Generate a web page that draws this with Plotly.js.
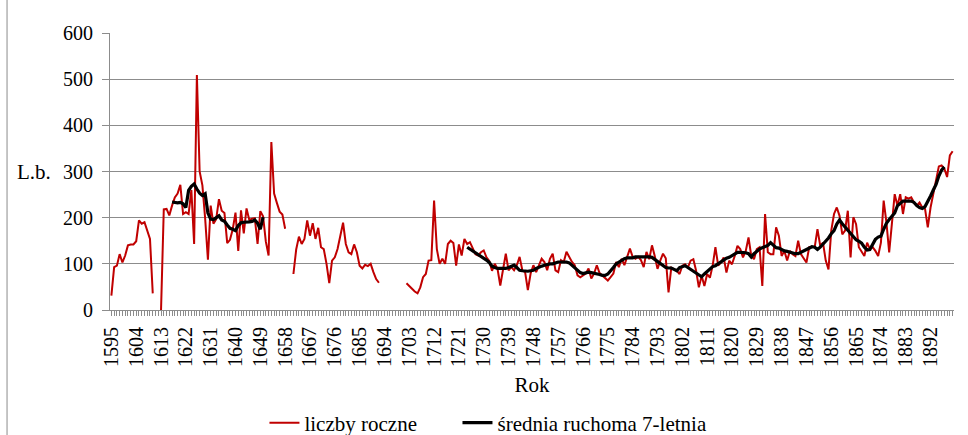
<!DOCTYPE html>
<html>
<head>
<meta charset="utf-8">
<script src="https://cdn.plot.ly/plotly-3.0.1.min.js"></script>
<style>
html,body{margin:0;padding:0;background:#fff;}
#chart{width:968px;height:435px;}
</style>
</head>
<body>
<div id="chart"></div>
<script>
// Years 1595..1900 (categories)
const firstYear = 1595;
const lastYear = 1900;
const labelStep = 9;

// Annual values (liczby roczne), aligned to years 1595..1900, null = no data
const annual = [
  31, 93, 96, 121, 103, 118, 140, 142, 142, 149,          // 1595-1604
  194, 187, 190, 172, 154, 36, null, null, 0, 218,        // 1605-1614
  219, 205, 226, 244, 252, 271, 208, 212, 208, 260,       // 1615-1624
  143, 509, 300, 270, 198, 109, 226, 187, 197, 240,       // 1625-1634
  215, 210, 145, 152, 175, 211, 128, 216, 166, 220,       // 1635-1644
  195, 198, 199, 143, 214, 203, 148, 118, 364, 252,       // 1645-1654
  232, 213, 207, 176, null, null, 78, 131, 159, 143,      // 1655-1664
  154, 194, 161, 188, 154, 178, 136, 132, 100, 58,        // 1665-1674
  107, 114, 132, 158, 189, 143, 125, 121, 142, 125,       // 1675-1684
  96, 90, 98, 95, 100, 82, 67, 59, null, null,            // 1685-1694
  null, null, null, null, null, null, null, 58, 51, 46,   // 1695-1704
  40, 36, 49, 71, 78, 107, 108, 237, 132, 100,            // 1705-1714
  111, 100, 143, 150, 145, 96, 142, 118, 154, 143,        // 1715-1724
  147, 132, 121, 118, 125, 129, 114, 106, 85, 100,        // 1725-1734
  89, 53, 86, 122, 86, 93, 86, 97, 115, 86,               // 1735-1744
  82, 43, 79, 97, 82, 97, 111, 104, 86, 111,              // 1745-1754
  122, 86, 82, 108, 104, 126, 115, 104, 97, 75,           // 1755-1764
  71, 75, 79, 90, 68, 79, 97, 80, 75, 71,                 // 1765-1774
  64, 71, 79, 104, 93, 111, 97, 115, 133, 115,            // 1775-1784
  111, 115, 108, 93, 126, 110, 140, 117, 89, 107,         // 1785-1794
  122, 112, 38, 92, 88, 85, 78, 96, 99, 92,               // 1795-1804
  107, 110, 85, 49, 74, 52, 78, 70, 96, 136,              // 1805-1814
  96, 103, 114, 81, 107, 99, 117, 139, 132, 114,          // 1815-1824
  128, 157, 117, 110, 132, 136, 52, 208, 125, 121,        // 1825-1834
  121, 179, 161, 117, 128, 107, 128, 121, 117, 150,       // 1835-1844
  121, 112, 103, 136, 137, 136, 175, 139, 146, 107,       // 1845-1854
  88, 172, 208, 222, 204, 164, 172, 215, 114, 201,        // 1855-1864
  186, 136, 125, 117, 146, 132, 136, 128, 117, 146,       // 1865-1874
  237, 190, 125, 186, 251, 226, 251, 208, 244, 241,       // 1875-1884
  244, 233, 226, 233, 222, 219, 179, 222, 251, 284,       // 1885-1894
  311, 313, 306, 288, 335, 344                            // 1895-1900
];

// 7-year moving average (średnia ruchoma 7-letnia), two stretches
const maStartA = 1617;
const movingAvgA = [
  234, 233, 232, 233, 230, 222, 259, 268, 273, 262,       // 1617-1626
  253, 248, 252, 210, 197, 196, 201, 204, 195, 192,       // 1627-1636
  184, 177, 175, 172, 183, 189, 190, 190, 191, 192,       // 1637-1646
  195, 188, 175, 201                                      // 1647-1650
];
const maStartB = 1724;
const movingAvgB = [
  136, 132, 128, 125, 121, 118, 113, 108, 103, 95,        // 1724-1733
  92, 90, 90, 90, 90, 92, 95, 97, 92, 86,                 // 1734-1743
  85, 84, 84, 85, 86, 90, 93, 95, 97, 99,                 // 1744-1753
  100, 100, 102, 104, 104, 104, 104, 102, 97, 92,         // 1754-1763
  85, 81, 79, 80, 82, 81, 80, 78, 77, 75,                 // 1764-1773
  75, 78, 84, 92, 100, 104, 108, 111, 113, 113,           // 1774-1783
  113, 115, 115, 115, 116, 116, 115, 114, 110, 106,       // 1784-1793
  100, 96, 92, 91, 91, 88, 85, 92, 94, 96,                // 1794-1803
  92, 88, 84, 79, 75, 72, 78, 84, 90, 94,                 // 1804-1813
  96, 100, 104, 110, 112, 114, 118, 122, 125, 125,        // 1814-1823
  125, 124, 122, 115, 122, 128, 132, 135, 137, 140,       // 1824-1833
  146, 140, 135, 134, 131, 128, 127, 125, 123, 122,       // 1834-1843
  122, 125, 128, 132, 134, 137, 136, 131, 136, 143,       // 1844-1853
  148, 156, 165, 172, 186, 195, 187, 180, 172, 165,       // 1854-1863
  158, 152, 149, 145, 136, 130, 131, 143, 153, 158,       // 1864-1873
  160, 175, 188, 196, 203, 210, 226, 232, 236, 236,       // 1874-1883
  236, 236, 233, 226, 222, 220, 224, 234, 247, 260,       // 1884-1893
  272, 290, 303, 310                                      // 1894-1897
];

const seriesNames = ["liczby roczne", "średnia ruchoma 7-letnia"];

// ---- build aligned arrays ----
const years = [];
for (let y = firstYear; y <= lastYear; y++) years.push(y);

const ma = years.map(() => null);
movingAvgA.forEach((v, i) => { ma[maStartA - firstYear + i] = v; });
movingAvgB.forEach((v, i) => { ma[maStartB - firstYear + i] = v; });

const tickText = years.map(y => ((y - firstYear) % labelStep === 0 ? String(y) : ""));

const FONT = "Liberation Serif, Times New Roman, serif";
const GRAY = "#8c8c8c";

const traces = [
  {
    x: years, y: annual, name: seriesNames[0], type: "scatter", mode: "lines",
    line: {color: "#C00000", width: 2}, connectgaps: false, hoverinfo: "x+y",
    legend: "legend"
  },
  {
    x: years, y: ma, name: seriesNames[1], type: "scatter", mode: "lines",
    line: {color: "#000000", width: 3.2}, connectgaps: false, hoverinfo: "x+y",
    legend: "legend2"
  }
];

const legendCommon = {
  orientation: "h", xanchor: "left", y: -0.408, yanchor: "middle",
  font: {family: FONT, size: 21, color: "#000"},
  bgcolor: "rgba(0,0,0,0)"
};

const layout = {
  width: 968, height: 435,
  margin: {l: 110, r: 14, t: 33, b: 125, pad: 0, autoexpand: false},
  paper_bgcolor: "#ffffff", plot_bgcolor: "#ffffff",
  font: {family: FONT, size: 20, color: "#000"},
  showlegend: true,
  legend: Object.assign({x: 0.183}, legendCommon),
  legend2: Object.assign({x: 0.4117}, legendCommon),
  xaxis: {
    range: [firstYear - 0.5, lastYear + 0.5],
    tickmode: "array", tickvals: years, ticktext: tickText,
    tickangle: -90, ticks: "outside", ticklen: 5, tickcolor: GRAY, tickwidth: 1,
    ticklabelstandoff: 3,
    showline: true, linecolor: GRAY, linewidth: 1, mirror: false,
    showgrid: false, zeroline: false,
    tickfont: {family: FONT, size: 20, color: "#000"},
    title: {text: "Rok", font: {family: FONT, size: 21, color: "#000"}, standoff: 11},
    automargin: false
  },
  yaxis: {
    range: [0, 600], tickmode: "linear", tick0: 0, dtick: 100,
    ticks: "outside", ticklen: 7, tickcolor: GRAY, ticklabelstandoff: 5,
    showline: true, linecolor: GRAY, linewidth: 1,
    showgrid: true, gridcolor: GRAY, gridwidth: 1.2, zeroline: false,
    tickfont: {family: FONT, size: 20, color: "#000"},
    automargin: false
  },
  annotations: [
    {text: "L.b.", xref: "paper", yref: "y", x: -0.090, y: 300, xanchor: "center", yanchor: "middle",
     showarrow: false, font: {family: FONT, size: 21, color: "#000"}}
  ],
  shapes: [
    {type: "line", xref: "paper", yref: "paper", x0: -0.122, x1: -0.122, y0: -0.46, y1: 1.13,
     line: {color: GRAY, width: 1}}
  ]
};

Plotly.newPlot("chart", traces, layout, {displayModeBar: false, staticPlot: true});
</script>
</body>
</html>
